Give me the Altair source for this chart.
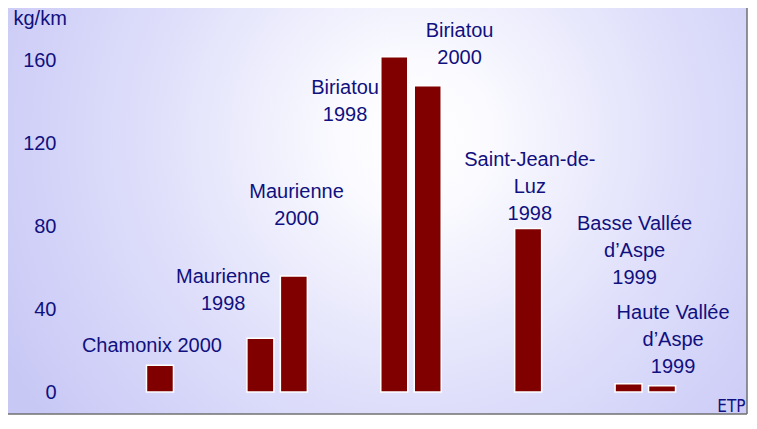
import altair as alt
import pandas as pd

# ---- data ----
groups = [
    ["Chamonix 2000"],
    ["Maurienne 1998", "Maurienne 2000"],
    ["Biriatou 1998", "Biriatou 2000"],
    ["Saint-Jean-de-Luz 1998"],
    ["Basse Vallée d'Aspe 1999", "Haute Vallée d'Aspe 1999"],
]
values = [13, 26, 56, 162, 148, 79, 4, 3]
y_ticks = [0, 40, 80, 120, 160]

label_texts = [
    "Chamonix 2000",
    "Maurienne\n1998",
    "Maurienne\n2000",
    "Biriatou\n1998",
    "Biriatou\n2000",
    "Saint-Jean-de-\nLuz\n1998",
    "Basse Vallée\nd\u2019Aspe\n1999",
    "Haute Vallée\nd\u2019Aspe\n1999",
]
# annotation anchors of the first text line (in slot / kg per km units)
label_x = [-0.24, 1.89, 4.08, 5.53, 8.95, 11.05, 14.18, 15.33]
label_y = [22.2, 55.6, 96.4, 147.1, 174.4, 112.3, 81.4, 38.4]

# slot positions: one slot per bar, two empty slots between groups
cats, slots = [], []
pos = 0
for g in groups:
    for c in g:
        cats.append(c)
        slots.append(pos)
        pos += 1
    pos += 2

bars = pd.DataFrame({"site": cats, "slot": slots, "kg": values})
labels = pd.DataFrame({"text": label_texts, "slot": label_x, "kg": label_y})

W, H = 739, 406
NAVY = "#10107f"
FONT = "Liberation Sans"

xscale = alt.Scale(domain=[-4.391, 17.389], nice=False, zero=False)
yscale = alt.Scale(domain=[-10.6, 185.5], nice=False, zero=False)

bg = alt.Chart(pd.DataFrame({"a": [0]})).mark_rect(
    color=alt.RadialGradient(
        gradient="radial",
        x1=0.55, y1=0.40, r1=0.0,
        x2=0.55, y2=0.40, r2=0.63,
        stops=[
            alt.GradientStop(offset=0, color="#ffffff"),
            alt.GradientStop(offset=0.15, color="#fbfbff"),
            alt.GradientStop(offset=0.55, color="#e0e0fb"),
            alt.GradientStop(offset=0.85, color="#d0d0f8"),
            alt.GradientStop(offset=1, color="#c8c8f5"),
        ],
    )
).encode(x=alt.value(0), x2=alt.value("width"), y=alt.value(0), y2=alt.value("height"))

bar = alt.Chart(bars).mark_bar(
    color="#800000", stroke="white", strokeWidth=1.5, size=27
).encode(
    x=alt.X("slot:Q", scale=xscale,
            axis=alt.Axis(labels=False, ticks=False, domain=False, grid=False, zindex=2,
                          title="ETP",
                          titleFont="'Liberation Sans Narrow', 'DejaVu Sans Condensed', sans-serif",
                          titleFontSize=17, titleFontWeight="normal", titleColor=NAVY,
                          titleAlign="right", titleBaseline="alphabetic",
                          titleX=W - 2, titleY=-3, titleAngle=0)),
    y=alt.Y("kg:Q", scale=yscale,
            axis=alt.Axis(values=y_ticks, grid=False, domain=False, ticks=False, tickSize=0,
                          zindex=2, labelPadding=0, offset=-48, labelFont=FONT,
                          labelFontSize=20, labelColor=NAVY,
                          title="kg/km", titleAngle=0, titleAlign="left", titleBaseline="top",
                          titleX=-43, titleY=0, titleFont=FONT, titleFontSize=20,
                          titleFontWeight="normal", titleColor=NAVY)),
)

txt = alt.Chart(labels).mark_text(
    font=FONT, fontSize=20, color=NAVY, align="center", baseline="middle",
    lineBreak="\n", lineHeight=27
).encode(
    x=alt.X("slot:Q", scale=xscale),
    y=alt.Y("kg:Q", scale=yscale),
    text="text:N",
)

border_r = alt.Chart(pd.DataFrame({"a": [0]})).mark_rule(color="#707070", strokeWidth=1.5).encode(
    x=alt.value("width"), y=alt.value(0), y2=alt.value("height"))
border_b = alt.Chart(pd.DataFrame({"a": [0]})).mark_rule(color="#707070", strokeWidth=1.5).encode(
    y=alt.value("height"), x=alt.value(0), x2=alt.value("width"))

chart = alt.layer(bg, bar, txt, border_r, border_b).properties(
    width=W, height=H,
    autosize=alt.AutoSizeParams(type="none"),
    padding={"left": 0, "top": 0, "right": 2, "bottom": 2},
    background="#ffffff",
).configure_view(stroke=None)

chart.save("out.html", embed_options={"renderer": "svg", "actions": False})
